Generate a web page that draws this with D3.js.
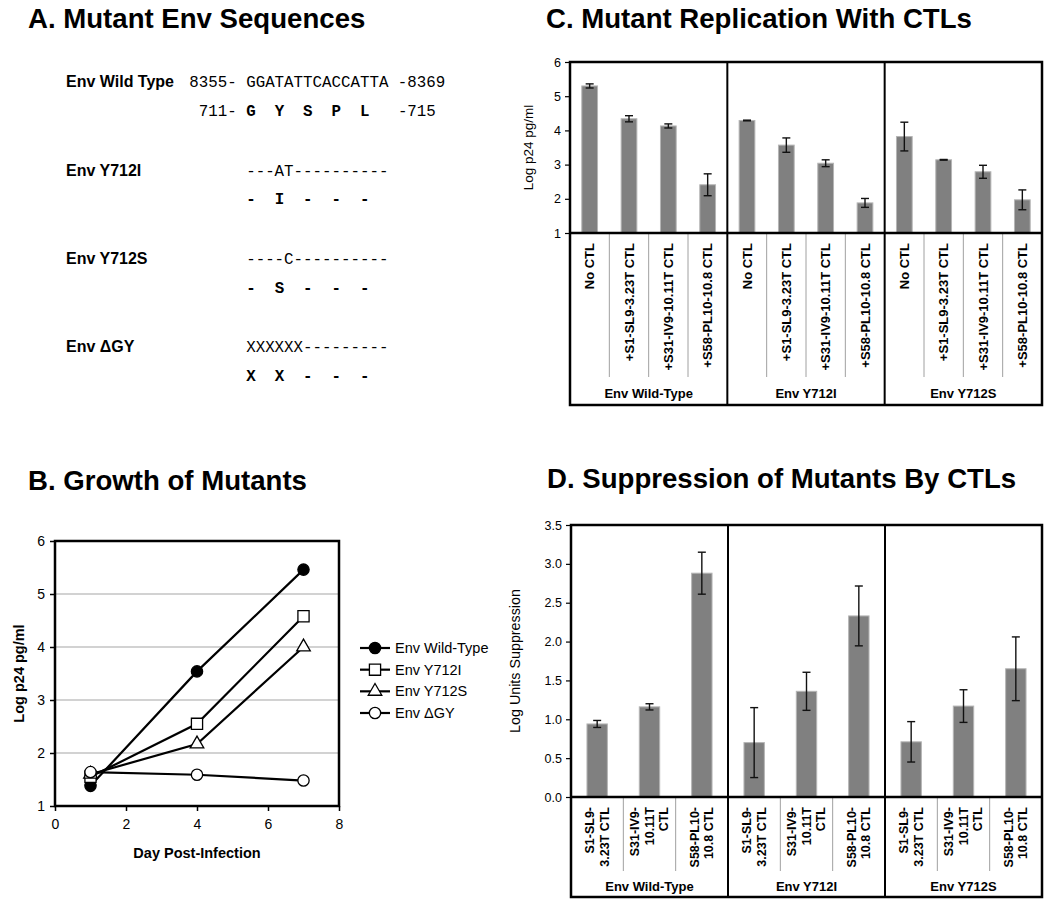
<!DOCTYPE html>
<html><head><meta charset="utf-8">
<script src="https://cdn.jsdelivr.net/npm/d3@7"></script>
<style>
body{margin:0;background:#fff;}
svg{display:block;font-family:"Liberation Sans",Arial,sans-serif;}
</style></head><body>
<svg id="fig" width="1050" height="905"></svg>
<script>
// ---------- Panel A data ----------
const aLabels = ["Env Wild Type", "Env Y712I", "Env Y712S", "Env \u0394GY"];
const aNucleotides = ["8355- GGATATTCACCATTA -8369", "      ---AT----------", "      ----C----------", "      XXXXXX---------"];
const aAminoAcids = [" 711- G  Y  S  P  L   -715", "      -  I  -  -  -", "      -  S  -  -  -", "      X  X  -  -  -"];

// ---------- Panel B data ----------
const bDays = [1, 4, 7];
const bSeriesNames = ["Env Wild-Type", "Env Y712I", "Env Y712S", "Env \u0394GY"];
const bWildType = [1.38, 3.54, 5.46];
const bY712I = [1.55, 2.55, 4.58];
const bY712S = [1.60, 2.17, 4.00];
const bDeltaGY = [1.64, 1.59, 1.48];
const bYTicks = [1, 2, 3, 4, 5, 6];
const bXTicks = [0, 2, 4, 6, 8];

// ---------- Panel C data ----------
const cGroups = ["Env Wild-Type", "Env Y712I", "Env Y712S"];
const cCategories = ["No CTL", "+S1-SL9-3.23T CTL", "+S31-IV9-10.11T CTL", "+S58-PL10-10.8 CTL"];
const cWildType = [5.30, 4.34, 4.13, 2.41];
const cY712I = [4.29, 3.57, 3.04, 1.88];
const cY712S = [3.82, 3.14, 2.79, 1.97];
const cErrWildType = [0.06, 0.09, 0.06, 0.32];
const cErrY712I = [0.01, 0.21, 0.10, 0.13];
const cErrY712S = [0.42, 0.01, 0.19, 0.29];
const cYTicks = [1, 2, 3, 4, 5, 6];

// ---------- Panel D data ----------
const dGroups = ["Env Wild-Type", "Env Y712I", "Env Y712S"];
const dCategories = [["S1-SL9-", "3.23T CTL"], ["S31-IV9-", "10.11T", "CTL"], ["S58-PL10-", "10.8 CTL"]];
const dWildType = [0.94, 1.16, 2.88];
const dY712I = [0.70, 1.36, 2.33];
const dY712S = [0.71, 1.17, 1.65];
const dErrWildType = [0.045, 0.04, 0.27];
const dErrY712I = [0.45, 0.245, 0.385];
const dErrY712S = [0.26, 0.21, 0.41];
const dYTicks = [0, 0.5, 1, 1.5, 2, 2.5, 3, 3.5];

const svg = d3.select("#fig");

// ---------- Titles ----------
const titles = [["A. Mutant Env Sequences", 28, 28], ["C. Mutant Replication With CTLs", 546, 28],
                ["B. Growth of Mutants", 28, 490], ["D. Suppression of Mutants By CTLs", 547, 488]];
svg.selectAll("text.title").data(titles).join("text").attr("class", "title")
  .attr("x", d => d[1]).attr("y", d => d[2])
  .attr("font-size", 27.6).attr("font-weight", "bold").text(d => d[0]);

// ---------- Panel A ----------
(function () {
  const g = svg.append("g");
  const rowY = d3.scaleLinear().domain([0, 3]).range([87.3, 352.3]);
  const seqX = 189.3;
  aLabels.forEach((lab, i) => {
    const y0 = rowY(i);
    g.append("text").attr("x", 66).attr("y", y0).attr("font-size", 16).attr("font-weight", "bold").text(lab);
    const nt = aNucleotides[i];
    g.append("text").attr("x", seqX).attr("y", y0)
      .attr("font-family", "'Liberation Mono','DejaVu Sans Mono',monospace").attr("font-size", 15.8)
      .style("white-space", "pre").text(nt);
    // amino acid line: characters in columns 6-18 are bold
    const aa = aAminoAcids[i];
    const t = g.append("text").attr("x", seqX).attr("y", y0 + 28.6)
      .attr("font-family", "'Liberation Mono','DejaVu Sans Mono',monospace").attr("font-size", 15.8)
      .style("white-space", "pre");
    t.append("tspan").text(aa.slice(0, 6));
    t.append("tspan").attr("font-weight", "bold").text(aa.slice(6, 19));
    if (aa.length > 19) t.append("tspan").text(aa.slice(19));
  });
})();

// ---------- Panel B ----------
(function () {
  const L = 55, R = 339, T = 541, B = 806;
  const x = d3.scaleLinear().domain([0, 8]).range([L, R]);
  const y = d3.scaleLinear().domain([1, 6]).range([B, T]);
  const g = svg.append("g");
  g.selectAll("line.grid").data(bYTicks.slice(1, -1)).join("line")
    .attr("x1", L).attr("x2", R).attr("y1", d => y(d)).attr("y2", d => y(d))
    .attr("stroke", "#a6a6a6").attr("stroke-width", 1.2);
  const ay = g.append("g").attr("transform", `translate(${L},0)`)
    .call(d3.axisLeft(y).tickValues(bYTicks).tickSize(5).tickPadding(5).tickFormat(d3.format("d")));
  const ax = g.append("g").attr("transform", `translate(0,${B})`)
    .call(d3.axisBottom(x).tickValues(bXTicks).tickSize(5).tickPadding(8).tickFormat(d3.format("d")));
  [ay, ax].forEach(a => {
    a.select(".domain").remove();
    a.selectAll("text").attr("font-size", 14).attr("font-family", "'Liberation Sans',Arial,sans-serif").attr("fill", "#000");
    a.selectAll("line").attr("stroke", "#000").attr("stroke-width", 1.5);
  });
  g.append("rect").attr("x", L).attr("y", T).attr("width", R - L).attr("height", B - T)
    .attr("fill", "none").attr("stroke", "#000").attr("stroke-width", 2.5);
  g.append("text").attr("transform", `translate(24,${(T + B) / 2}) rotate(-90)`).attr("text-anchor", "middle")
    .attr("font-size", 14.5).attr("font-weight", "bold").text("Log p24 pg/ml");
  g.append("text").attr("x", (L + R) / 2).attr("y", 858).attr("text-anchor", "middle")
    .attr("font-size", 14.5).attr("font-weight", "bold").text("Day Post-Infection");

  const series = [bWildType, bY712I, bY712S, bDeltaGY];
  const symbols = [d3.symbolCircle, d3.symbolSquare, d3.symbolTriangle, d3.symbolCircle];
  const sizes = [100, 125, 80, 100];
  const fills = ["#000", "#fff", "#fff", "#fff"];
  const line = d3.line().x((d, i) => x(bDays[i])).y(d => y(d));
  series.forEach((s) => {
    g.append("path").attr("d", line(s)).attr("fill", "none").attr("stroke", "#000").attr("stroke-width", 2.2);
  });
  series.forEach((s, k) => {
    g.selectAll(null).data(s).join("path")
      .attr("transform", (d, i) => `translate(${x(bDays[i])},${y(d)})`)
      .attr("d", d3.symbol().type(symbols[k]).size(sizes[k]))
      .attr("fill", fills[k]).attr("stroke", "#000").attr("stroke-width", 1.3);
  });
  // legend
  const ly = d3.scaleLinear().domain([0, 3]).range([648, 713]);
  bSeriesNames.forEach((n, k) => {
    const yy = ly(k);
    g.append("line").attr("x1", 360).attr("x2", 390).attr("y1", yy).attr("y2", yy).attr("stroke", "#000").attr("stroke-width", 2.2);
    g.append("path").attr("transform", `translate(375,${yy})`).attr("d", d3.symbol().type(symbols[k]).size(sizes[k]))
      .attr("fill", fills[k]).attr("stroke", "#000").attr("stroke-width", 1.3);
    g.append("text").attr("x", 395).attr("y", yy).attr("dy", "0.35em").attr("font-size", 14.5).text(n);
  });
})();

// ---------- Bar panels C and D ----------
function barPanel(cfg) {
  const g = svg.append("g");
  const x0 = d3.scaleBand().domain(cfg.groups).range([cfg.left, cfg.right]);
  const x1 = d3.scaleBand().domain(d3.range(cfg.cats.length)).range([0, x0.bandwidth()])
    .paddingInner(cfg.pad).paddingOuter(cfg.pad / 2);
  const step = x0.bandwidth() / cfg.cats.length;
  const y = d3.scaleLinear().domain(cfg.domain).range([cfg.bottom, cfg.top]);
  const base = cfg.domain[0];

  cfg.groups.forEach((gr, gi) => {
    const vals = cfg.values[gi], errs = cfg.errors[gi];
    const gx = x0(gr);
    vals.forEach((v, i) => {
      const bx = gx + x1(i);
      g.append("rect").attr("x", bx).attr("y", y(v)).attr("width", x1.bandwidth()).attr("height", y(base) - y(v))
        .attr("fill", "#808080").attr("stroke", "#b5b5b5").attr("stroke-width", 1);
      const cx = bx + x1.bandwidth() / 2;
      const e = errs[i];
      g.append("line").attr("x1", cx).attr("x2", cx).attr("y1", y(v - e)).attr("y2", y(v + e)).attr("stroke", "#111").attr("stroke-width", 1.4);
      [v - e, v + e].forEach(yy => g.append("line").attr("x1", cx - 4).attr("x2", cx + 4).attr("y1", y(yy)).attr("y2", y(yy))
        .attr("stroke", "#111").attr("stroke-width", 1.4));
      // category label
      const lines = Array.isArray(cfg.cats[i]) ? cfg.cats[i] : [cfg.cats[i]];
      const t = g.append("text").attr("transform", `translate(${cx},${cfg.bottom + 10}) rotate(-90)`)
        .attr("text-anchor", "end").attr("font-size", cfg.catFont).attr("font-weight", "bold");
      lines.forEach((ln, li) => {
        t.append("tspan").attr("x", 0).attr("y", 0)
          .attr("dy", (0.35 * cfg.catFont + (li - (lines.length - 1) / 2) * cfg.lineH).toFixed(2)).text(ln);
      });
      // grey separators between categories
      if (i > 0) {
        const sx = gx + step * i;
        g.append("line").attr("x1", sx).attr("x2", sx).attr("y1", cfg.bottom).attr("y2", cfg.sepEnd)
          .attr("stroke", "#a0a0a0").attr("stroke-width", 1);
      }
    });
    g.append("text").attr("x", gx + x0.bandwidth() / 2).attr("y", cfg.groupY).attr("text-anchor", "middle")
      .attr("font-size", 13).attr("font-weight", "bold").text(gr);
    if (gi > 0) {
      g.append("line").attr("x1", gx).attr("x2", gx).attr("y1", cfg.top).attr("y2", cfg.boxBottom)
        .attr("stroke", "#000").attr("stroke-width", 2);
    }
  });
  // frame
  g.append("rect").attr("x", cfg.left).attr("y", cfg.top).attr("width", cfg.right - cfg.left).attr("height", cfg.boxBottom - cfg.top)
    .attr("fill", "none").attr("stroke", "#000").attr("stroke-width", 2.5);
  g.append("line").attr("x1", cfg.left).attr("x2", cfg.right).attr("y1", cfg.bottom).attr("y2", cfg.bottom)
    .attr("stroke", "#000").attr("stroke-width", 2.5);
  // axis
  const ay = g.append("g").attr("transform", `translate(${cfg.left},0)`)
    .call(d3.axisLeft(y).tickValues(cfg.ticks).tickSize(5).tickPadding(4).tickFormat(cfg.fmt));
  ay.select(".domain").remove();
  ay.selectAll("text").attr("font-size", cfg.tickFont).attr("font-family", "'Liberation Sans',Arial,sans-serif").attr("fill", "#000");
  ay.selectAll("line").attr("stroke", "#000").attr("stroke-width", 1.2);
  g.append("text").attr("transform", `translate(${cfg.ylabX},${(cfg.top + cfg.bottom) / 2}) rotate(-90)`)
    .attr("text-anchor", "middle").attr("font-size", cfg.ylabFont).text(cfg.ylab);
}

barPanel({
  groups: cGroups, cats: cCategories, values: [cWildType, cY712I, cY712S], errors: [cErrWildType, cErrY712I, cErrY712S],
  domain: [1, 6], ticks: cYTicks, fmt: d3.format("d"), left: 570, right: 1042, top: 62, bottom: 233,
  boxBottom: 405, sepEnd: 377, groupY: 397.5, pad: 0.6, catFont: 13, lineH: 14.5, tickFont: 12.5,
  ylab: "Log p24 pg/ml", ylabX: 533, ylabFont: 13.5
});

barPanel({
  groups: dGroups, cats: dCategories, values: [dWildType, dY712I, dY712S], errors: [dErrWildType, dErrY712I, dErrY712S],
  domain: [0, 3.5], ticks: dYTicks, fmt: d3.format(".1f"), left: 571, right: 1042, top: 525, bottom: 797,
  boxBottom: 897, sepEnd: 871, groupY: 891, pad: 0.61, catFont: 12.5, lineH: 14.5, tickFont: 12.5,
  ylab: "Log Units Suppression", ylabX: 520, ylabFont: 14.3
});
</script>
</body></html>
